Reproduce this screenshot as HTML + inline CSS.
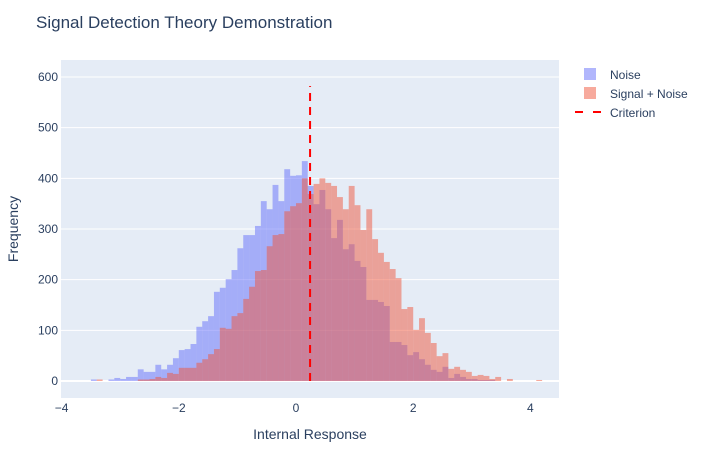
<!DOCTYPE html>
<html><head><meta charset="utf-8"><style>
body{margin:0;background:#fff;}
svg text{font-family:"Liberation Sans",Arial,sans-serif;}
</style></head><body>
<svg id="chart" width="716" height="450" xmlns="http://www.w3.org/2000/svg">
<rect width="716" height="450" fill="#fff"/>
<rect x="61" y="60" width="498" height="338" fill="#E5ECF6"/>
<g id="grid"></g>
<g id="bars"></g>
<g id="ticks"></g>
<text x="36" y="28" font-size="17" fill="#2a3f5f">Signal Detection Theory Demonstration</text>
<text x="310" y="439" font-size="14" fill="#2a3f5f" text-anchor="middle">Internal Response</text>
<text x="18" y="229" font-size="14" fill="#2a3f5f" text-anchor="middle" transform="rotate(-90 18 229)">Frequency</text>
<g>
<g><rect x="584" y="68" width="12" height="12" fill="rgb(99,110,250)" fill-opacity="0.5"/><text x="610" y="79" font-size="12" fill="#2a3f5f">Noise</text></g>
<g><rect x="584" y="87" width="12" height="12" fill="rgb(239,85,59)" fill-opacity="0.5"/><text x="610" y="98" font-size="12" fill="#2a3f5f">Signal + Noise</text></g>
<g><line x1="575" y1="112" x2="603" y2="112" stroke="red" stroke-width="2" stroke-dasharray="8,10"/><text x="610" y="117" font-size="12" fill="#2a3f5f">Criterion</text></g>
</g>
</svg>
<script>
const binStart = -3.5;
const binWidth = 0.1;
const noiseCounts = [3,0,0,3,6,4,8,8,23,18,18,32,23,32,45,61,63,73,107,118,128,176,184,201,219,262,288,288,306,355,339,387,355,418,405,406,434,385,349,377,339,282,318,260,270,237,225,160,160,156,148,77,77,71,51,57,43,32,22,18,28,6,14,8,4,4,2,2,2,0,0,0,0,0,0,0,0];
const signalCounts = [0,3,0,0,0,0,0,0,3,3,4,8,6,16,14,26,26,26,36,43,53,63,105,103,128,134,162,186,217,219,266,288,290,335,345,351,400,369,389,400,391,385,363,339,385,347,298,339,280,253,235,221,203,142,146,101,124,95,75,49,55,24,28,22,18,10,12,10,4,8,0,4,0,0,0,0,2];
const criterion = 0.24;
const criterionTop = 582;
const xTicks = [-4,-2,0,2,4];
const yTicks = [0,100,200,300,400,500,600];

const NS = "http://www.w3.org/2000/svg";
const X = v => 296 + (v) * 58.6;
const Y = v => 381 - v * (304/600);
function mk(tag, attrs, parent){const e=document.createElementNS(NS,tag);for(const k in attrs)e.setAttribute(k,attrs[k]);parent.appendChild(e);return e;}
const grid=document.getElementById('grid'), bars=document.getElementById('bars'), ticks=document.getElementById('ticks');
yTicks.forEach(t=>{
  const l=mk('line',{x1:61,x2:559,y1:Y(t),y2:Y(t),stroke:'#fff','stroke-width':t===0?2:1},grid);
  
  
  const tx=mk('text',{x:58,y:Y(t)+4,'font-size':12,fill:'#2a3f5f','text-anchor':'end'},ticks);
  tx.textContent=t;
  
  
});
xTicks.forEach(t=>{
  const tx=mk('text',{x:X(t),y:412,'font-size':12,fill:'#2a3f5f','text-anchor':'middle'},ticks);
  tx.textContent=String(t).replace('-','\u2212');
  
  
});
function drawSeries(counts,color,name){
  counts.forEach((c,i)=>{
    if(c<=0)return;
    const x0=X(binStart+i*binWidth), x1=X(binStart+(i+1)*binWidth);
    const r=mk('rect',{x:x0,y:Y(c),width:x1-x0,height:Y(0)-Y(c),fill:color,'fill-opacity':0.5},bars);
    
    
  });
}
drawSeries(noiseCounts,'rgb(99,110,250)','noise-bar');
drawSeries(signalCounts,'rgb(239,85,59)','signal-bar');
const cl=mk('line',{x1:X(criterion),x2:X(criterion),y1:Y(0),y2:Y(criterionTop),stroke:'red','stroke-width':2,'stroke-dasharray':'8,6'},bars);


</script>
</body></html>
